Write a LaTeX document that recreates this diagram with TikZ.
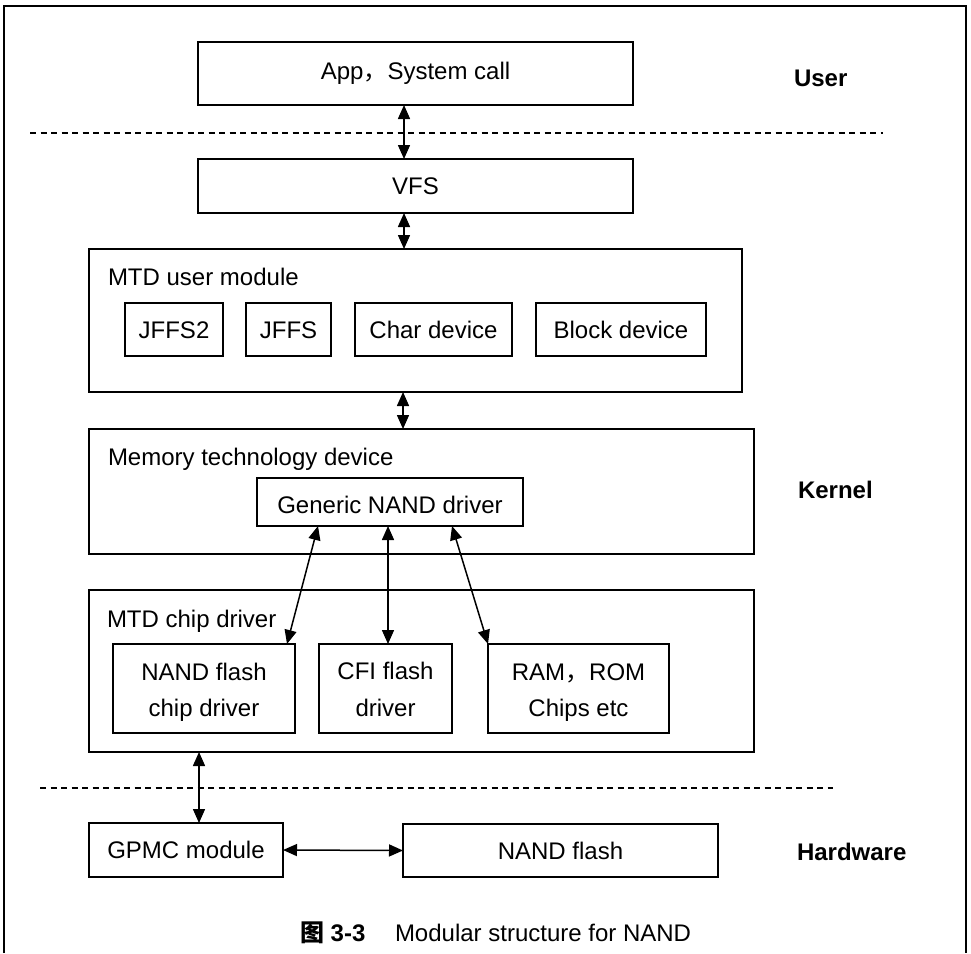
\documentclass[tikz,border=0pt]{standalone}
\usepackage{fontspec}
\setmainfont{Liberation Sans}
\newfontfamily\cjk{Noto Sans CJK SC}
\usetikzlibrary{arrows.meta}
\begin{document}
\begin{tikzpicture}[x=1pt,y=-1pt,
  txt/.style={inner sep=0pt, outer sep=0pt, font=\fontsize{24}{36}\selectfont, text height=17pt, text depth=0pt},
  box/.style={txt, draw, line width=1.4pt},
  lbl/.style={txt},
  layer/.style={txt, font=\fontsize{24}{36}\selectfont\bfseries},
  bi/.style={line width=1.5pt, {Triangle[width=12pt,length=14pt]}-{Triangle[width=12pt,length=14pt]}},
  sep/.style={line width=1.4pt, dash pattern=on 6pt off 4.5pt},
  frame/.style={line width=2pt}]
\useasboundingbox (0,0) rectangle (971,953);

% outer frame
\coordinate (f1) at (4,953);
\coordinate (f2) at (4,6);
\coordinate (f3) at (966,6);
\coordinate (f4) at (966,953);
\draw[frame] (f1) -- (f2) -- (f3) -- (f4);

% user space
\node[box, text depth=5.4pt, minimum width=435, minimum height=63] (app) at (415.5,73.5) {App{\cjk ，}System call};
\node[layer, anchor=west] (user) at (794,78) {User};

\coordinate (d1a) at (30,133);
\coordinate (d1b) at (883,133);
\draw[sep] (d1a) -- (d1b);

\node[box, minimum width=435, minimum height=54] (vfs) at (415.5,186) {VFS};

% MTD user module
\node[box, minimum width=653, minimum height=143] (mtdu) at (415.5,320.5) {};
\node[lbl, anchor=west] (mtdul) at (108,276.5) {MTD user module};
\node[box, minimum width=98, minimum height=53] (jffs2) at (174,329.5) {JFFS2};
\node[box, minimum width=85, minimum height=53] (jffs) at (288.5,329.5) {JFFS};
\node[box, minimum width=157, minimum height=53] (chr) at (433.5,329.5) {Char device};
\node[box, minimum width=170, minimum height=53] (blk) at (621,329.5) {Block device};

% Memory technology device
\node[box, minimum width=665, minimum height=125] (mtd) at (421.5,491.5) {};
\node[lbl, anchor=west] (mtdl) at (108,456.5) {Memory technology device};
\node[box, text height=23pt, minimum width=266, minimum height=48] (gen) at (390,502) {Generic NAND driver};
\node[layer, anchor=west] (kern) at (798,490) {Kernel};

% MTD chip driver
\node[box, minimum width=665, minimum height=162] (chip) at (421.5,671) {};
\node[lbl, anchor=west] (chipl) at (107,618.5) {MTD chip driver};
\node[box, minimum width=182, minimum height=89] (nandc) at (204,688.5) {};
\node[lbl] (nandc1) at ([yshift=16.5pt]nandc.center) {NAND flash};
\node[lbl] (nandc2) at ([yshift=-19.5pt]nandc.center) {chip driver};
\node[box, minimum width=133, minimum height=89] (cfi) at (385.5,688.5) {};
\node[lbl] (cfi1) at ([yshift=17.5pt]cfi.center) {CFI flash};
\node[lbl] (cfi2) at ([yshift=-19.5pt]cfi.center) {driver};
\node[box, minimum width=181, minimum height=89] (ram) at (578.5,688.5) {};
\node[lbl] (ram1) at ([yshift=17pt]ram.center) {RAM{\cjk ，}ROM};
\node[lbl] (ram2) at ([yshift=-19.5pt]ram.center) {Chips etc};

% hardware
\coordinate (d2a) at (40,788);
\coordinate (d2b) at (833,788);
\draw[sep] (d2a) -- (d2b);

\node[box, minimum width=194, minimum height=54] (gpmc) at (186,850) {GPMC module};
\node[box, minimum width=315, minimum height=53] (nand) at (560.5,850.5) {NAND flash};
\node[layer, anchor=west] (hw) at (797,852) {Hardware};

% caption
\node[layer, anchor=west] (capn) at (300,933) {{\cjk 图} 3-3};
\node[lbl, anchor=west] (capt) at (395,933) {Modular structure for NAND};

% connectors
\draw[bi] ([xshift=-11.5pt]app.south) -- ([xshift=-11.5pt]vfs.north);
\draw[bi] ([xshift=-11.5pt]vfs.south) -- ([xshift=-11.5pt]mtdu.north);
\draw[bi] ([xshift=-12.5pt]mtdu.south) -- ([xshift=-18.5pt]mtd.north);
\draw[bi] ([xshift=-72pt]gen.south) -- ([xshift=-8pt]nandc.north east);
\draw[bi] ([xshift=-2pt]gen.south) -- ([xshift=2.5pt]cfi.north);
\draw[bi] ([xshift=62pt]gen.south) -- (ram.north west);
\draw[bi] ([xshift=-222.5pt]chip.south) -- ([xshift=13pt]gpmc.north);
\draw[bi] (gpmc.east) -- (nand.west);
\end{tikzpicture}
\end{document}
